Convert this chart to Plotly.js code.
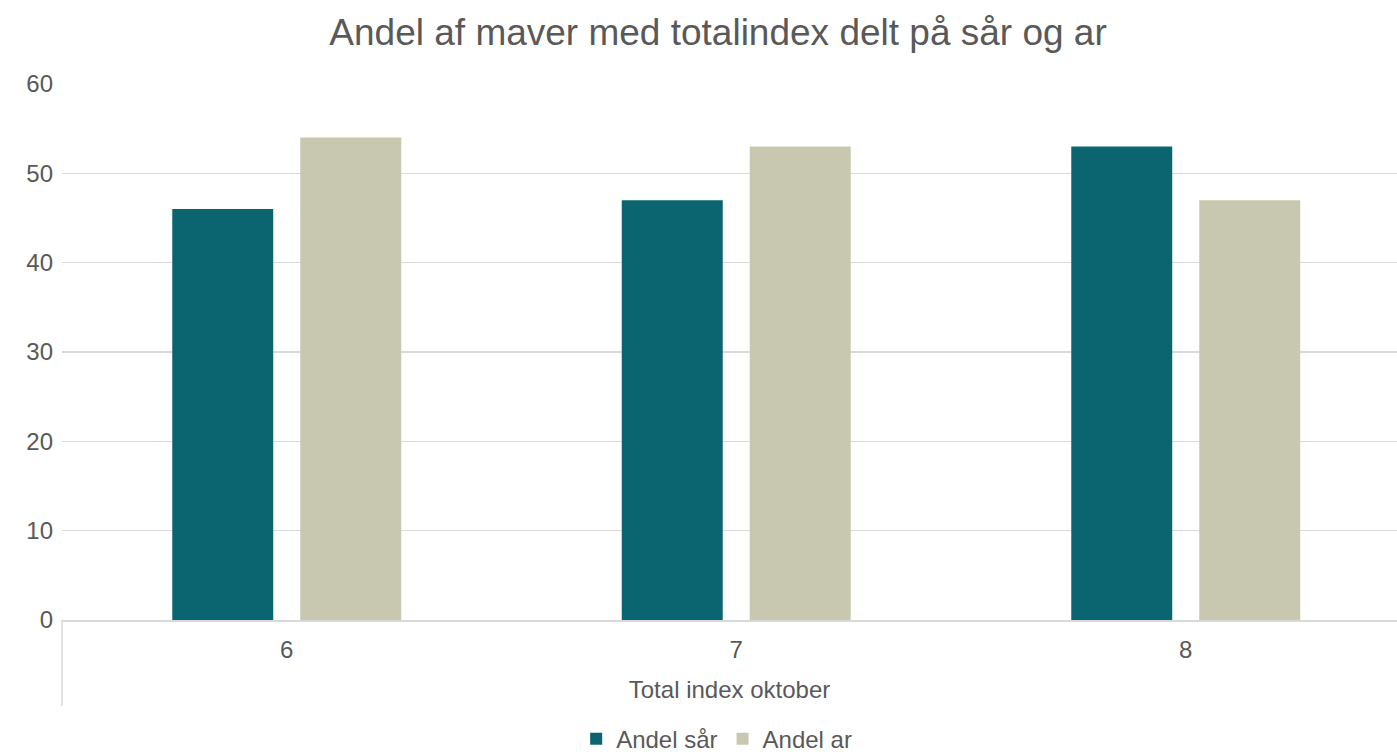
<!DOCTYPE html>
<html><head><meta charset="utf-8">
<script src="https://cdn.plot.ly/plotly-3.0.1.min.js"></script>
<style>html,body{margin:0;padding:0;background:#fff}#chart{width:1397px;height:752px}</style>
</head><body><div id="chart"></div>
<script>
const categories = ['6', '7', '8'];
const andelSaar = [46, 47, 53];
const andelAr = [54, 53, 47];
const seriesNames = ['Andel sår', 'Andel ar'];

const font = {family: 'Liberation Sans, Arial, sans-serif', color: '#595959', size: 24};
const data = [
  {type: 'bar', x: categories, y: andelSaar, name: seriesNames[0], marker: {color: '#0a6570'}},
  {type: 'bar', x: categories, y: andelAr, name: seriesNames[1], marker: {color: '#c8c8b0'}}
];
const layout = {
  width: 1397, height: 752,
  margin: {l: 62, r: 0, t: 84, b: 132},
  paper_bgcolor: '#fff', plot_bgcolor: '#fff',
  font: font,
  title: {text: 'Andel af maver med totalindex delt på sår og ar', font: {family: font.family, size: 37, color: '#595959'}, xref: 'container', x: 0.514, xanchor: 'center', y: 0.957, yanchor: 'middle'},
  barmode: 'group', bargap: 0.4305, bargroupgap: 0.211,
  xaxis: {type: 'category', range: [-0.5, 2.47], showgrid: false, showline: true, linecolor: '#d9d9d9', linewidth: 1.5,
    ticks: '', tickfont: {size: 24, color: '#595959'}, ticklabelstandoff: 8,
    title: {text: 'Total index oktober', font: {size: 24, color: '#595959'}, standoff: 19}},
  yaxis: {range: [0, 60], dtick: 10, showgrid: true, gridcolor: '#d9d9d9', gridwidth: 1.5, zeroline: false, showline: false,
    ticks: '', tickfont: {size: 24, color: '#595959'}, ticklabelstandoff: 8},
  legend: {orientation: 'h', x: 0.513, xref: 'container', xanchor: 'center', y: 0.017, yref: 'container', yanchor: 'middle', font: {size: 24, color: '#595959'}, itemwidth: 30, traceorder: 'normal'},
  shapes: [{type: 'line', xref: 'paper', yref: 'paper', x0: 0, x1: 0, y0: 0, y1: -0.1604, line: {color: '#d9d9d9', width: 1.5}}],
  showlegend: true
};
Plotly.newPlot('chart', data, layout, {displayModeBar: false, staticPlot: true});
</script></body></html>
